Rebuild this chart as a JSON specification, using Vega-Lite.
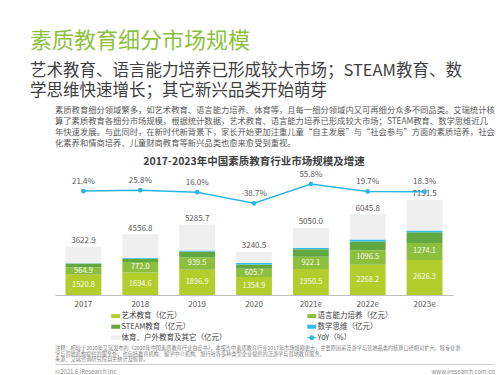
{
  "$schema": "https://vega.github.io/schema/vega-lite/v6.json",
  "padding": {"left": 30, "top": 29, "right": 0, "bottom": 0},
  "background": "white",
  "spacing": 0,
  "resolve": {"scale": {"color": "independent"}, "legend": {"color": "independent"}},
  "config": {
    "font": "Noto Sans CJK SC",
    "view": {"stroke": null},
    "locale": {"number": {"decimal": ".", "thousands": ",", "grouping": [3], "currency": ["$", ""], "minus": "-"}}
  },
  "title": {
    "text": "素质教育细分市场规模",
    "subtitle": ["艺术教育、语言能力培养已形成较大市场；STEAM教育、数", "学思维快速增长；其它新兴品类开始萌芽"],
    "anchor": "start",
    "fontSize": 22,
    "fontWeight": "normal",
    "color": "#8DC13F",
    "subtitleFontSize": 16.5,
    "subtitleColor": "#404040",
    "subtitleLineHeight": 20,
    "subtitlePadding": 10,
    "offset": 5
  },
  "datasets": {
    "para": [
      {"line": 1, "text": "素质教育细分领域繁多，如艺术教育、语言能力培养、体育等，且每一细分领域内又可再细分众多不同品类。艾瑞统计核"},
      {"line": 2, "text": "算了素质教育各细分市场规模，根据统计数据，艺术教育、语言能力培养已形成较大市场；STEAM教育、数学思维近几"},
      {"line": 3, "text": "年快速发展。与此同时，在新时代新背景下，家长开始更加注重儿童“自主发展”与“社会参与”方面的素质培养，社会"},
      {"line": 4, "text": "化素养和情商培养、儿童财商教育等新兴品类也愈来愈受到重视。"}
    ],
    "bars": [
      {"year": "2017", "series": "艺术教育（亿元）", "rank": 1, "value": 1520.8},
      {"year": "2017", "series": "语言能力培养（亿元）", "rank": 2, "value": 564.9},
      {"year": "2017", "series": "STEAM教育（亿元）", "rank": 3, "value": 270},
      {"year": "2017", "series": "数学思维（亿元）", "rank": 4, "value": 30},
      {"year": "2017", "series": "体育、户外教育及其它（亿元）", "rank": 5, "value": 1237.2},
      {"year": "2018", "series": "艺术教育（亿元）", "rank": 1, "value": 1694.6},
      {"year": "2018", "series": "语言能力培养（亿元）", "rank": 2, "value": 772.0},
      {"year": "2018", "series": "STEAM教育（亿元）", "rank": 3, "value": 260},
      {"year": "2018", "series": "数学思维（亿元）", "rank": 4, "value": 50},
      {"year": "2018", "series": "体育、户外教育及其它（亿元）", "rank": 5, "value": 1780.2},
      {"year": "2019", "series": "艺术教育（亿元）", "rank": 1, "value": 1896.9},
      {"year": "2019", "series": "语言能力培养（亿元）", "rank": 2, "value": 939.5},
      {"year": "2019", "series": "STEAM教育（亿元）", "rank": 3, "value": 420},
      {"year": "2019", "series": "数学思维（亿元）", "rank": 4, "value": 80},
      {"year": "2019", "series": "体育、户外教育及其它（亿元）", "rank": 5, "value": 1949.3},
      {"year": "2020", "series": "艺术教育（亿元）", "rank": 1, "value": 1354.9},
      {"year": "2020", "series": "语言能力培养（亿元）", "rank": 2, "value": 605.7},
      {"year": "2020", "series": "STEAM教育（亿元）", "rank": 3, "value": 330},
      {"year": "2020", "series": "数学思维（亿元）", "rank": 4, "value": 110},
      {"year": "2020", "series": "体育、户外教育及其它（亿元）", "rank": 5, "value": 839.9},
      {"year": "2021e", "series": "艺术教育（亿元）", "rank": 1, "value": 1950.5},
      {"year": "2021e", "series": "语言能力培养（亿元）", "rank": 2, "value": 922.1},
      {"year": "2021e", "series": "STEAM教育（亿元）", "rank": 3, "value": 550},
      {"year": "2021e", "series": "数学思维（亿元）", "rank": 4, "value": 130},
      {"year": "2021e", "series": "体育、户外教育及其它（亿元）", "rank": 5, "value": 1497.4},
      {"year": "2022e", "series": "艺术教育（亿元）", "rank": 1, "value": 2268.2},
      {"year": "2022e", "series": "语言能力培养（亿元）", "rank": 2, "value": 1096.5},
      {"year": "2022e", "series": "STEAM教育（亿元）", "rank": 3, "value": 650},
      {"year": "2022e", "series": "数学思维（亿元）", "rank": 4, "value": 150},
      {"year": "2022e", "series": "体育、户外教育及其它（亿元）", "rank": 5, "value": 1881.1},
      {"year": "2023e", "series": "艺术教育（亿元）", "rank": 1, "value": 2626.3},
      {"year": "2023e", "series": "语言能力培养（亿元）", "rank": 2, "value": 1274.1},
      {"year": "2023e", "series": "STEAM教育（亿元）", "rank": 3, "value": 800},
      {"year": "2023e", "series": "数学思维（亿元）", "rank": 4, "value": 130},
      {"year": "2023e", "series": "体育、户外教育及其它（亿元）", "rank": 5, "value": 2321.1}
    ],
    "yoy": [
      {"year": "2017", "yoy": 0.214},
      {"year": "2018", "yoy": 0.258},
      {"year": "2019", "yoy": 0.160},
      {"year": "2020", "yoy": -0.387},
      {"year": "2021e", "yoy": 0.558},
      {"year": "2022e", "yoy": 0.197},
      {"year": "2023e", "yoy": 0.183}
    ],
    "notes": [
      {"line": 1, "text": "注释：相较于2020年艾瑞发布的《2020年中国素质教育行业白皮书》，本报告中素质教育行业2017年市场规模更大，主要原因系泛游学与营地品类的核算口径相对扩大，除专业游"},
      {"line": 2, "text": "学与营地机构提供的服务外，也包括教育机构、留学中介机构、旅行社等多种类型企业提供的泛游学与营地教育服务。"},
      {"line": 3, "text": "来源：艾瑞咨询研究院自主统计及核算。"}
    ],
    "footer": [
      {"pos": "L", "text": "©2021.6 iResearch Inc."},
      {"pos": "R", "text": "www.iresearch.com.cn"}
    ]
  },
  "vconcat": [
    {
      "width": 440,
      "height": 52,
      "data": {"name": "para"},
      "mark": {"type": "text", "align": "left", "baseline": "middle", "fontSize": 8.3, "color": "#595959"},
      "encoding": {
        "y": {"field": "line", "type": "ordinal", "axis": null, "scale": {"type": "point", "padding": 0.864, "align": 0.305}},
        "x": {"value": 0},
        "text": {"field": "text"}
      }
    },
    {
      "width": 398,
      "height": 120,
      "title": {"text": "2017-2023年中国素质教育行业市场规模及增速", "fontSize": 10.5, "fontWeight": "bold", "color": "#404040", "offset": 3, "anchor": "middle"},
      "resolve": {"scale": {"y": "independent"}},
      "layer": [
        {
          "data": {"name": "bars"},
          "layer": [
            {
              "mark": {"type": "bar"},
              "encoding": {
                "x": {"field": "year", "type": "nominal", "scale": {"paddingInner": 0.37, "paddingOuter": 0.185},
                      "axis": {"title": null, "labelAngle": 0, "ticks": false, "domainColor": "#BFBFBF", "labelColor": "#595959", "labelFontSize": 8, "labelPadding": 5}},
                "y": {"field": "value", "type": "quantitative", "aggregate": "sum", "scale": {"domain": [0, 9000]},
                      "axis": {"labels": false, "ticks": false, "domain": false, "grid": false, "title": null, "minExtent": 25, "maxExtent": 25}},
                "color": {
                  "field": "series", "type": "nominal",
                  "scale": {
                    "domain": ["艺术教育（亿元）", "语言能力培养（亿元）", "STEAM教育（亿元）", "数学思维（亿元）", "体育、户外教育及其它（亿元）", "YoY（%）"],
                    "range": ["#B3CD2C", "#8DBF3E", "#62A840", "#35BDEA", "#EFEFEF", "#2BB5E6"]
                  },
                  "legend": {
                    "orient": "none", "legendX": 57, "legendY": 137, "columns": 2, "title": null,
                    "values": ["艺术教育（亿元）", "STEAM教育（亿元）", "体育、户外教育及其它（亿元）", "语言能力培养（亿元）", "数学思维（亿元）", "YoY（%）"],
                    "labelFontSize": 7.5, "labelColor": "#404040", "symbolSize": 81, "rowPadding": 2, "columnPadding": 77, "labelOffset": 2, "padding": 0,
                    "encode": {"symbols": {"update": {
                      "shape": {"signal": "datum.value === 'YoY（%）' ? 'M-1,0H1M-0.4,0A0.4,0.4,0,1,1,0.4,0A0.4,0.4,0,1,1,-0.4,0' : 'M-1,-0.45H1V0.45H-1Z'"},
                      "fill": {"scale": "color", "field": "value"},
                      "stroke": {"scale": "color", "field": "value"},
                      "strokeWidth": {"signal": "datum.value === 'YoY（%）' ? 1.2 : 0"},
                      "opacity": {"value": 1}
                    }}}
                  }
                },
                "order": {"field": "rank", "type": "quantitative"}
              }
            },
            {
              "transform": [{"filter": {"field": "rank", "lte": 2}}],
              "mark": {"type": "text", "fontSize": 7.5, "color": "#FFFFFF", "opacity": 0.92, "baseline": "middle"},
              "encoding": {
                "x": {"field": "year", "type": "nominal"},
                "y": {"field": "value", "type": "quantitative", "aggregate": "sum", "stack": "zero", "bandPosition": 0.5, "scale": {"domain": [0, 9000]}},
                "detail": {"field": "series", "type": "nominal"},
                "order": {"field": "rank", "type": "quantitative"},
                "text": {"field": "value", "type": "quantitative", "aggregate": "sum", "format": ".1f"}
              }
            },
            {
              "transform": [{"aggregate": [{"op": "sum", "field": "value", "as": "total"}], "groupby": ["year"]}],
              "mark": {"type": "text", "baseline": "bottom", "dy": -1.5, "fontSize": 8, "color": "#595959"},
              "encoding": {
                "x": {"field": "year", "type": "nominal"},
                "y": {"field": "total", "type": "quantitative", "scale": {"domain": [0, 9000]}},
                "text": {"field": "total", "type": "quantitative", "format": ".1f"}
              }
            }
          ]
        },
        {
          "data": {"name": "yoy"},
          "encoding": {
            "x": {"field": "year", "type": "nominal"},
            "y": {"field": "yoy", "type": "quantitative", "scale": {"domain": [-4.88, 1.0]}, "axis": null}
          },
          "layer": [
            {
              "mark": {"type": "line", "strokeWidth": 1.5, "point": {"filled": true, "size": 22}},
              "encoding": {
                "color": {"datum": "YoY（%）", "type": "nominal",
                  "legend": {
                    "orient": "none", "legendX": 57, "legendY": 137, "columns": 2, "title": null,
                    "values": ["艺术教育（亿元）", "STEAM教育（亿元）", "体育、户外教育及其它（亿元）", "语言能力培养（亿元）", "数学思维（亿元）", "YoY（%）"],
                    "labelFontSize": 7.5, "labelColor": "#404040", "symbolSize": 81, "rowPadding": 2, "columnPadding": 77, "labelOffset": 2, "padding": 0
                  }}
              }
            },
            {
              "mark": {"type": "text", "baseline": "bottom", "dy": -5.5, "fontSize": 8, "color": "#595959"},
              "encoding": {"text": {"field": "yoy", "type": "quantitative", "format": ".1%"}}
            }
          ]
        }
      ]
    },
    {
      "width": 440,
      "height": 22,
      "data": {"name": "notes"},
      "mark": {"type": "text", "align": "left", "baseline": "middle", "fontSize": 5.2, "color": "#7F7F7F"},
      "encoding": {
        "y": {"field": "line", "type": "ordinal", "axis": null, "scale": {"type": "point", "padding": 1, "align": 0.59}},
        "x": {"value": 0},
        "text": {"field": "text"}
      }
    },
    {
      "width": 440,
      "height": 16,
      "data": {"name": "footer"},
      "layer": [
        {
          "transform": [{"filter": {"field": "pos", "equal": "L"}}],
          "mark": {"type": "text", "align": "left", "baseline": "middle", "fontSize": 6, "color": "#8C8C8C"},
          "encoding": {
            "x": {"field": "pos", "type": "nominal", "scale": {"type": "point", "domain": ["L", "R"], "padding": 0},
                  "axis": {"orient": "top", "labels": false, "ticks": false, "title": null, "domainColor": "#BFBFBF", "domainWidth": 0.8}},
            "text": {"field": "text"}
          }
        },
        {
          "transform": [{"filter": {"field": "pos", "equal": "R"}}],
          "mark": {"type": "text", "align": "right", "baseline": "middle", "fontSize": 6, "color": "#8C8C8C"},
          "encoding": {
            "x": {"field": "pos", "type": "nominal"},
            "text": {"field": "text"}
          }
        }
      ]
    }
  ]
}
